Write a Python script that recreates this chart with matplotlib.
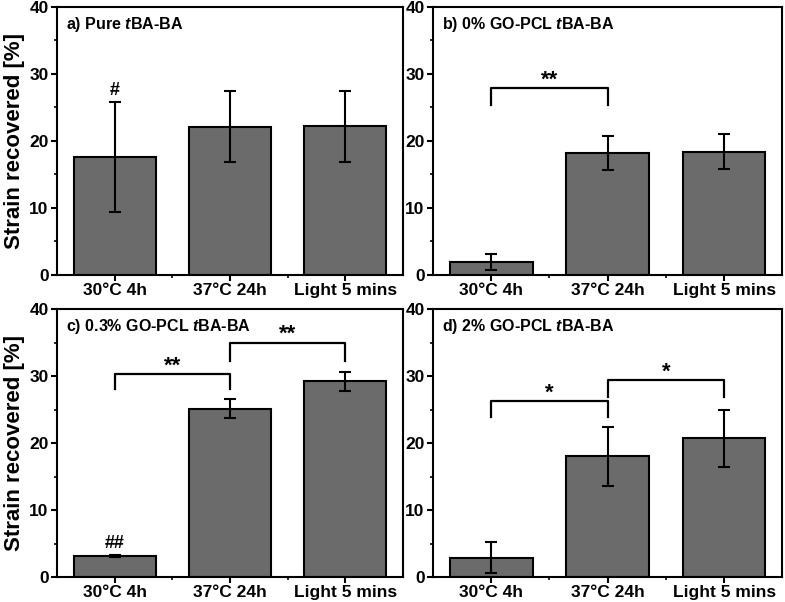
import matplotlib
matplotlib.use("Agg")
import matplotlib.pyplot as plt
from matplotlib.ticker import MultipleLocator, FixedLocator

plt.rcParams["font.family"] = ["Liberation Sans", "DejaVu Sans"]
plt.rcParams["font.weight"] = "bold"
plt.rcParams["mathtext.fontset"] = "custom"
plt.rcParams["mathtext.rm"] = "Liberation Sans:bold"
plt.rcParams["mathtext.bfit"] = "Liberation Sans:italic:bold"

categories = ["30°C 4h", "37°C 24h", "Light 5 mins"]

titles = [
    r"a) Pure $\mathbfit{t}$BA-BA",
    r"b) 0% GO-PCL $\mathbfit{t}$BA-BA",
    r"c) 0.3% GO-PCL $\mathbfit{t}$BA-BA",
    r"d) 2% GO-PCL $\mathbfit{t}$BA-BA",
]

means_a = [17.6, 22.1, 22.2]
means_b = [2.0, 18.2, 18.4]
means_c = [3.1, 25.1, 29.2]
means_d = [2.9, 18.0, 20.7]

err_a = [8.2, 5.3, 5.3]
err_b = [1.2, 2.6, 2.6]
err_c = [0.15, 1.4, 1.45]
err_d = [2.35, 4.35, 4.3]

# brackets: (left cat, right cat, top y, leg bottom y, label)
brackets_a = []
brackets_b = [(0, 1, 27.9, 25.4, "**")]
brackets_c = [(0, 1, 30.3, 28.0, "**"), (1, 2, 35.0, 32.3, "**")]
brackets_d = [(0, 1, 26.3, 23.9, "*"), (1, 2, 29.4, 26.9, "*")]

# marks above single bars: (cat, y, label)
marks_a = [(0, 26.2, "#")]
marks_b = []
marks_c = [(0, 3.7, "##")]
marks_d = []

panels = [
    (titles[0], means_a, err_a, brackets_a, marks_a),
    (titles[1], means_b, err_b, brackets_b, marks_b),
    (titles[2], means_c, err_c, brackets_c, marks_c),
    (titles[3], means_d, err_d, brackets_d, marks_d),
]

positions = [
    [0.0726, 0.5432, 0.4408, 0.4452],
    [0.5516, 0.5432, 0.4450, 0.4452],
    [0.0726, 0.0415, 0.4408, 0.4452],
    [0.5516, 0.0415, 0.4450, 0.4452],
]

fig = plt.figure(figsize=(7.85, 6.02), dpi=100)
x = list(range(len(categories)))

for i, (title, means, errs, brackets, marks) in enumerate(panels):
    ax = fig.add_axes(positions[i])
    ax.bar(x, means, width=0.71, color="#6b6b6b", edgecolor="black",
           linewidth=1.5, zorder=2)
    ax.errorbar(x, means, yerr=errs, fmt="none", ecolor="black",
                elinewidth=1.5, capsize=4.5, capthick=1.5, zorder=3)
    ax.set_xlim(-0.5, 2.5)
    ax.set_ylim(0, 40)
    ax.set_xticks(x)
    ax.set_xticklabels(categories, fontsize=12, fontweight="bold")
    ax.xaxis.set_minor_locator(FixedLocator([0.5, 1.5]))
    ax.yaxis.set_major_locator(MultipleLocator(10))
    ax.yaxis.set_minor_locator(MultipleLocator(5))
    ax.tick_params(axis="both", which="major", direction="out", length=4,
                   width=1.5, labelsize=12.5, pad=2)
    ax.tick_params(axis="both", which="minor", direction="out", length=2.5,
                   width=1.2)
    for lab in ax.get_yticklabels():
        lab.set_fontweight("bold")
    for sp in ax.spines.values():
        sp.set_linewidth(1.5)
    if i % 2 == 0:
        ax.set_ylabel("Strain recovered [%]", fontsize=16, fontweight="bold",
                      labelpad=3)
    ax.text(0.025, 0.935, title, transform=ax.transAxes, fontsize=11.5,
            fontweight="bold", va="center", ha="left")
    for left, right, top, bottom, label in brackets:
        ax.plot([left, left, right, right], [bottom, top, top, bottom],
                color="black", lw=1.6, zorder=4)
        ax.text((left + right) / 2, top - 0.4, label, ha="center", va="bottom",
                fontsize=16, fontweight="bold")
    for cat, y, label in marks:
        ax.text(cat, y, label, ha="center", va="bottom", fontsize=13,
                fontweight="bold")

fig.savefig("out.png", dpi=100)
